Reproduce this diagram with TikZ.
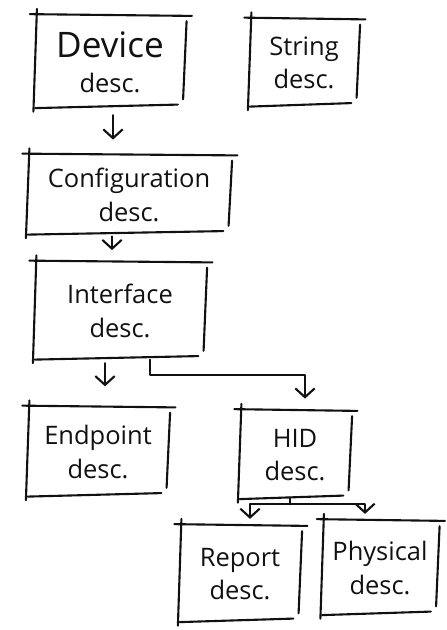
\documentclass[tikz,border=0pt]{standalone}
\usepackage{fontspec}
\setmainfont{Open Sans}
\usepackage{xcolor}
\usetikzlibrary{arrows.meta,positioning}
\definecolor{pen}{HTML}{111111}
\tikzset{
  descnode/.style={align=center, inner sep=0pt, text=pen,
    font=\fontsize{14.5}{19}\selectfont},
  frameline/.style={pen, line width=1.2pt, line cap=round},
  arr/.style={pen, line width=1.2pt, line cap=round, line join=round,
    -{Straight Barb[length=5pt,width=11pt,line width=1.2pt]}},
}
\newcommand\sketchframe[1]{%
  \draw[frameline] ([xshift=-3pt,yshift=2pt]#1.north west) -- ([xshift=4pt,yshift=1pt]#1.north east);
  \draw[frameline] ([xshift=1pt,yshift=5pt]#1.north west) -- ([xshift=-1pt,yshift=-3pt]#1.south west);
  \draw[frameline] ([xshift=1pt,yshift=-2pt]#1.north east) -- ([xshift=-1pt,yshift=4pt]#1.south east);
  \draw[frameline] ([xshift=0pt,yshift=-1pt]#1.south west) -- ([xshift=-4pt,yshift=1pt]#1.south east);
}
\begin{document}
\begin{tikzpicture}[x=0.02cm,y=-0.02cm]
\useasboundingbox (0,0) rectangle (447,630);
\node[descnode, minimum width=2.98cm, minimum height=1.76cm] (device) at (110,62)
  {{\fontsize{20}{24}\selectfont Device}\\[1pt]desc.};
\node[descnode, minimum width=2.16cm, minimum height=1.66cm] (string) at (304,63) {String\\desc.};
\node[descnode, minimum width=4.04cm, minimum height=1.5cm] (config) at (129,195) {Configuration\\desc.};
\node[descnode, minimum width=3.4cm, minimum height=1.86cm] (interface) at (120,311) {Interface\\desc.};
\node[descnode, minimum width=2.8cm, minimum height=1.7cm] (endpoint) at (98,452) {Endpoint\\desc.};
\node[descnode, minimum width=2.2cm, minimum height=1.68cm] (hid) at (295,455) {HID\\desc.};
\node[descnode, minimum width=2.4cm, minimum height=1.84cm] (report) at (240,574) {Report\\desc.};
\node[descnode, minimum width=2.3cm, minimum height=1.8cm] (physical) at (380,568) {Physical\\desc.};
\foreach \n in {device,string,config,interface,endpoint,hid,report,physical}
  \sketchframe{\n};
\draw[arr] ([xshift=0.06cm,yshift=-5pt]device.south) -- ([xshift=0.06cm,yshift=10pt]device.south |- config.north);
\draw[arr] ([xshift=-0.34cm,yshift=-2pt]config.south) -- ([xshift=-0.34cm,yshift=8pt]config.south |- interface.north);
\draw[arr] ([xshift=-0.3cm,yshift=-3pt]interface.south) -- ([xshift=-0.3cm,yshift=13pt]interface.south |- endpoint.north);
\draw[arr] ([xshift=0.6cm,yshift=-1pt]interface.south) -- ++(0,-0.3cm) -| ([xshift=0.2cm,yshift=8pt]hid.north);
\draw[frameline] ([xshift=-0.1cm]hid.south) -- ++(0,-0.14cm) coordinate (split);
\draw[arr] (split) -| ([xshift=0.2cm,yshift=5pt]report.north);
\draw[arr] (split) -| ([xshift=-0.3cm,yshift=5pt]physical.north);
\end{tikzpicture}
\end{document}
